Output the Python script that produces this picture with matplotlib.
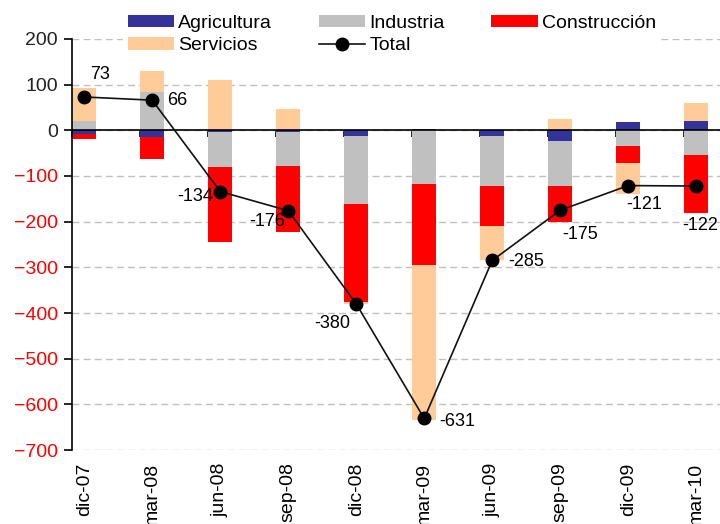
import matplotlib.pyplot as plt
import numpy as np

plt.rcParams['font.family'] = ['Liberation Sans', 'DejaVu Sans']

periods = ["dic-07", "mar-08", "jun-08", "sep-08", "dic-08",
           "mar-09", "jun-09", "sep-09", "dic-09", "mar-10"]
agricultura = [-7, -14, -3, -3, -13, 3, -13, -23, 19, 20]
industria = [20, 85, -78, -75, -149, -118, -109, -99, -34, -55]
construccion = [-12, -49, -164, -145, -213, -177, -87, -78, -37, -126]
servicios = [72, 44, 111, 47, -5, -339, -76, 25, -69, 39]
total = [73, 66, -134, -176, -380, -631, -285, -175, -121, -122]

# label offsets in pixels (dx, dy)
label_offsets = [(16, 22), (25, 0), (-25, -5), (-21, -11), (-24, -20),
                 (33, -3), (34, -1), (20, -24), (16, -19), (4, -39)]

series = [("Agricultura", agricultura, "#333399"),
          ("Industria", industria, "#C0C0C0"),
          ("Construcción", construccion, "#FF0000"),
          ("Servicios", servicios, "#FFCC99")]

x = np.arange(len(periods))
width = 0.36

fig = plt.figure(figsize=(7.2, 5.24), dpi=100)
ax = fig.add_axes([0.1, 0.1412, 0.9, 0.7844])

pos_bottom = np.zeros(len(x))
neg_bottom = np.zeros(len(x))
handles = {}
for name, vals, color in series:
    vals = np.array(vals, dtype=float)
    bottom = np.where(vals >= 0, pos_bottom, neg_bottom)
    h = ax.bar(x, vals, width, bottom=bottom, color=color, label=name, zorder=2)
    handles[name] = h
    pos_bottom += np.where(vals >= 0, vals, 0)
    neg_bottom += np.where(vals < 0, vals, 0)

line, = ax.plot(x, total, color="#111111", lw=1.2, marker="o", markersize=9,
                markerfacecolor="black", markeredgecolor="black",
                label="Total", zorder=4)
handles["Total"] = line

for xi, v, (dx, dy) in zip(x, total, label_offsets):
    ax.annotate(f"{v}", (xi, v), xytext=(dx, dy), textcoords="offset pixels",
                ha="center", va="center", fontsize=13, zorder=5)

ax.set_ylim(-700, 200)
ax.set_xlim(-width / 2, 9.35)
ax.set_yticks(range(-700, 201, 100))
ax.yaxis.grid(True, color="#C0C0C0", linestyle=(0, (5, 3)), lw=1)
ax.set_axisbelow(True)
ax.axhline(0, color="black", lw=1.2, zorder=3)

for s in ["top", "right", "bottom"]:
    ax.spines[s].set_visible(False)
ax.spines["left"].set_linewidth(1.2)
ax.tick_params(axis="y", direction="out", length=6, width=1.2, labelsize=14, pad=4)
for lbl, val in zip(ax.get_yticklabels(), ax.get_yticks()):
    lbl.set_color("red" if val < 0 else "#222222")

ax.set_xticks(x)
ax.set_xticklabels(periods, rotation=90, fontsize=14)
ax.tick_params(axis="x", length=0, pad=9)

# category tick marks on the zero line
zero_frac = (0 - (-700)) / 900
sec = ax.secondary_xaxis(zero_frac)
sec.set_alignment("bottom")
sec.set_xticks(x - width / 2)
sec.set_xticklabels([])
sec.spines["bottom"].set_visible(False)
sec.tick_params(axis="x", direction="out", length=5, width=1.2, color="black")

order = ["Agricultura", "Servicios", "Industria", "Total", "Construcción"]
leg = fig.legend([handles[k] for k in order], order, ncol=3,
                 loc="upper left", bbox_to_anchor=(0.157, 1.0),
                 fontsize=14, frameon=True, framealpha=1, edgecolor="none",
                 handlelength=2.4, handleheight=0.6, handletextpad=0.2,
                 columnspacing=2.4, labelspacing=0.3, borderpad=0.25)

fig.savefig("out.png", dpi=100)
